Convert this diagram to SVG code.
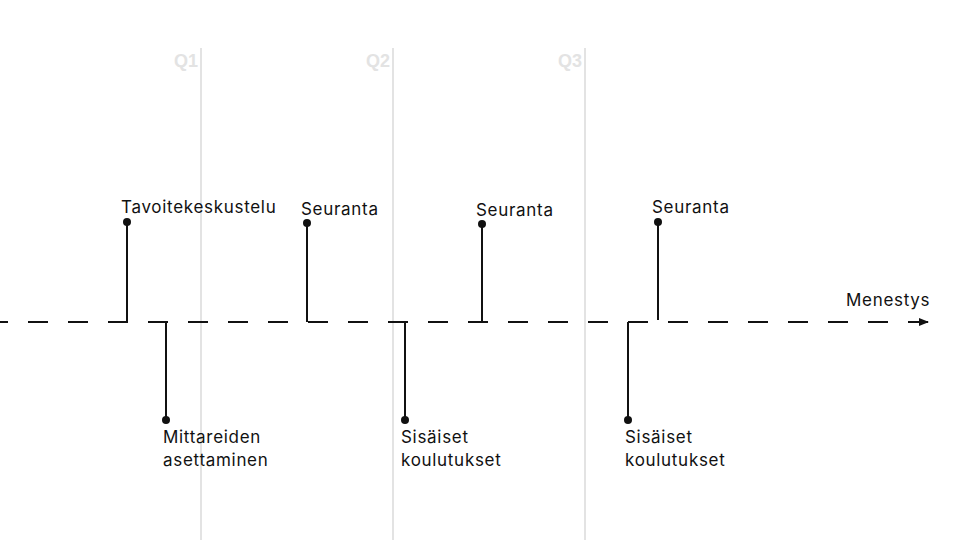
<svg xmlns="http://www.w3.org/2000/svg" width="960" height="540" viewBox="0 0 960 540">
<style>
.q{stroke:#e3e3e3;stroke-width:2}
.ql{font:bold 18px "Liberation Sans",sans-serif;fill:#e3e3e3;text-anchor:end}
.s{stroke:#111;stroke-width:2;fill:none}
.t{font:17px Inter,"Liberation Sans",sans-serif;fill:#111;letter-spacing:0.7px}
</style>
<defs><marker id="a" markerWidth="10" markerHeight="10" refX="9" refY="5" orient="auto" markerUnits="userSpaceOnUse"><path d="M0,1L10,5L0,9z" fill="#111"/></marker></defs>
<g id="grid">
<line class="q" x1="201" y1="48" x2="201" y2="540"/><text class="ql" x="198" y="67">Q1</text>
<line class="q" x1="393" y1="48" x2="393" y2="540"/><text class="ql" x="390" y="67">Q2</text>
<line class="q" x1="585" y1="48" x2="585" y2="540"/><text class="ql" x="582" y="67">Q3</text>
</g>
<g id="connectors">
<line class="s" x1="0" y1="322" x2="928" y2="322" stroke-dasharray="20 20" stroke-dashoffset="12" marker-end="url(#a)"/>
</g>
<g id="n1"><line class="s" x1="127" y1="222" x2="127" y2="322"/><circle cx="127" cy="222" r="4" fill="#111"/><text class="t" x="121" y="213">Tavoitekeskustelu</text></g>
<g id="n2"><line class="s" x1="166" y1="322" x2="166" y2="420"/><circle cx="166" cy="420" r="4" fill="#111"/><text class="t" x="163" y="443">Mittareiden</text><text class="t" x="163" y="466">asettaminen</text></g>
<g id="n3"><line class="s" x1="307" y1="223" x2="307" y2="322"/><circle cx="307" cy="223" r="4" fill="#111"/><text class="t" x="301" y="215">Seuranta</text></g>
<g id="n4"><line class="s" x1="405" y1="322" x2="405" y2="420"/><circle cx="405" cy="420" r="4" fill="#111"/><text class="t" x="401" y="443">Sisäiset</text><text class="t" x="401" y="466">koulutukset</text></g>
<g id="n5"><line class="s" x1="482" y1="224" x2="482" y2="322"/><circle cx="482" cy="224" r="4" fill="#111"/><text class="t" x="476" y="216">Seuranta</text></g>
<g id="n6"><line class="s" x1="628" y1="322" x2="628" y2="420"/><circle cx="628" cy="420" r="4" fill="#111"/><text class="t" x="625" y="443">Sisäiset</text><text class="t" x="625" y="466">koulutukset</text></g>
<g id="n7"><line class="s" x1="658" y1="222" x2="658" y2="320"/><circle cx="658" cy="222" r="4" fill="#111"/><text class="t" x="652" y="213">Seuranta</text></g>
<g id="n8"><text class="t" x="846" y="306">Menestys</text></g>
</svg>
